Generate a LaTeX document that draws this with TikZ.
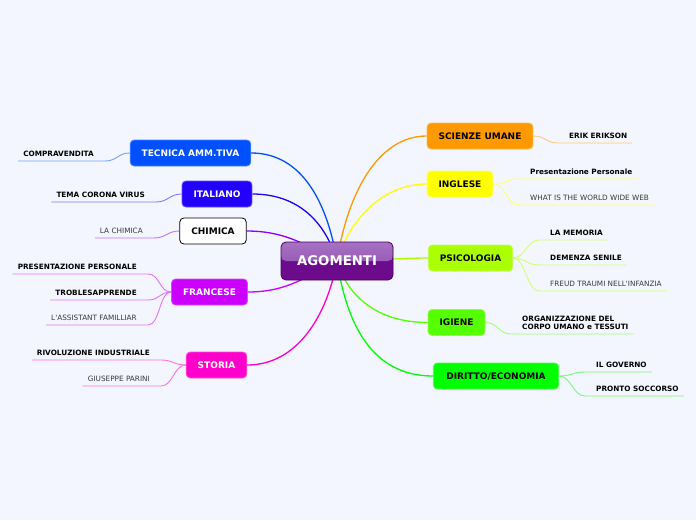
\documentclass[tikz,border=0pt]{standalone}
\usepackage{fontspec}
\setmainfont{DejaVu Sans}
\pgfdeclarelayer{back}
\pgfdeclarelayer{bg}
\pgfsetlayers{back,bg,main}
\definecolor{bgc}{HTML}{F3F6FE}
\definecolor{cTec}{HTML}{0050FF}
\definecolor{cIta}{HTML}{2200FF}
\definecolor{cChi}{HTML}{8A00FF}
\definecolor{cFra}{HTML}{CC00FF}
\definecolor{cSto}{HTML}{FF00CC}
\definecolor{cSci}{HTML}{FF9900}
\definecolor{cIng}{HTML}{FFFF00}
\definecolor{cPsi}{HTML}{AAFF00}
\definecolor{cIgi}{HTML}{55FF00}
\definecolor{cDir}{HTML}{00FF00}
\definecolor{agoD}{HTML}{6C0C8C}
\definecolor{agoT}{HTML}{A672C2}
\definecolor{agoM}{HTML}{8E48AE}
\definecolor{agoB}{HTML}{4A0066}
\tikzset{
  topic/.style={rounded corners=4pt, minimum height=26pt, inner xsep=11.5pt,
    font=\bfseries\fontsize{9}{11}\selectfont, text height=6.6pt, text depth=0pt, line width=0.8pt},
  leafb/.style={inner xsep=5pt, inner ysep=4.5pt, text height=5.4pt, text depth=0pt,
    font=\bfseries\fontsize{7.3}{9}\selectfont, text=black},
  leafr/.style={leafb, font=\fontsize{7.3}{9}\selectfont, text=black!78},
  mainc/.style={line width=1.3pt},
  subc/.style={line width=0.9pt},
}
\begin{document}
\begin{tikzpicture}[x=1pt,y=-1pt]
\begin{pgfonlayer}{back}
\fill[bgc] (0,0) rectangle (696,520);
\end{pgfonlayer}
\useasboundingbox (0,0) rectangle (696,520);

% central node
\node[minimum width=112pt, minimum height=38pt, rounded corners=5pt, draw=agoB, line width=0.8pt,
  fill=agoD, text=white, font=\bfseries\fontsize{13.3}{15}\selectfont,
  path picture={\shade[top color=agoT, bottom color=agoM]
    (path picture bounding box.north west) rectangle (path picture bounding box.east);}]
  (ago) at (337,261) {AGOMENTI};

% topics
\node[topic, fill=cTec, draw=cTec!70!white, text=white] (tec) at (190.5,153) {TECNICA AMM.TIVA};
\node[topic, fill=cIta, draw=cIta!70!white, text=white] (ita) at (217,194) {ITALIANO};
\node[topic, fill=white, draw=black, text=black] (chi) at (213,231) {CHIMICA};
\node[topic, fill=cFra, draw=cFra!70!white, text=white] (fra) at (209.5,292) {FRANCESE};
\node[topic, fill=cSto, draw=cSto!70!white, text=white] (sto) at (216.5,365) {STORIA};
\node[topic, fill=cSci, draw=cSci!70!white, text=black] (sci) at (480,136) {SCIENZE UMANE};
\node[topic, fill=cIng, draw=cIng!70!white, text=black] (ing) at (460,184) {INGLESE};
\node[topic, fill=cPsi, draw=cPsi!70!white, text=black] (psi) at (470.5,258) {PSICOLOGIA};
\node[topic, fill=cIgi, draw=cIgi!70!white, text=black] (igi) at (456.5,322.5) {IGIENE};
\node[topic, fill=cDir, draw=cDir!70!white, text=black, inner xsep=13pt] (dir) at (496,376) {DIRITTO/ECONOMIA};

% left leaves
\node[leafb, anchor=south east] (l1) at (99,161) {COMPRAVENDITA};
\node[leafb, anchor=south east] (l2) at (150,202) {TEMA CORONA VIRUS};
\node[leafr, anchor=south east] (l3) at (148,238) {LA CHIMICA};
\node[leafb, anchor=south east] (l4) at (142,274) {PRESENTAZIONE PERSONALE};
\node[leafb, anchor=south east] (l5) at (142,300) {TROBLESAPPRENDE};
\node[leafr, anchor=south east] (l6) at (142,325) {L\textquotesingle ASSISTANT FAMILLIAR};
\node[leafb, anchor=south east] (l7) at (155,360) {RIVOLUZIONE INDUSTRIALE};
\node[leafr, anchor=south east] (l8) at (155,386) {GIUSEPPE PARINI};

% right leaves
\node[leafb, anchor=south west] (r1) at (564,143) {ERIK ERIKSON};
\node[leafb, anchor=south west] (r2) at (525,179) {Presentazione Personale};
\node[leafr, anchor=south west] (r3) at (525,205) {WHAT IS THE WORLD WIDE WEB};
\node[leafb, anchor=south west] (r4) at (545,240) {LA MEMORIA};
\node[leafb, anchor=south west] (r5) at (545,265) {DEMENZA SENILE};
\node[leafr, anchor=south west] (r6) at (545,291) {FREUD TRAUMI NELL\textquotesingle INFANZIA};
\node[leafb, anchor=south west, align=left, text height=14.4pt] (r7) at (517,334) {ORGANIZZAZIONE DEL\\[-0.8pt]CORPO UMANO e TESSUTI};
\node[leafb, anchor=south west] (r8) at (591,372) {IL GOVERNO};
\node[leafb, anchor=south west] (r9) at (591,396) {PRONTO SOCCORSO};

\begin{pgfonlayer}{bg}
% main connectors
\draw[mainc, cTec] (tec.east) .. controls +(50,0) and +(-10,-60) .. (ago.center);
\draw[mainc, cIta] (ita.east) .. controls +(45,0) and +(-12,-40) .. (ago.center);
\draw[mainc, cChi] (chi.east) .. controls +(40,0) and +(-30,-15) .. (ago.center);
\draw[mainc, cFra] (fra.east) .. controls +(40,0) and +(-30,15) .. (ago.center);
\draw[mainc, cSto] (sto.east) .. controls +(50,0) and +(-10,55) .. (ago.center);
\draw[mainc, cSci] (sci.west) .. controls +(-50,0) and +(10,-65) .. (ago.center);
\draw[mainc, cIng] (ing.west) .. controls +(-45,0) and +(12,-40) .. (ago.center);
\draw[mainc, cPsi] (psi.west) .. controls +(-30,0) and +(30,0) .. (ago.center);
\draw[mainc, cIgi] (igi.west) .. controls +(-45,0) and +(12,40) .. (ago.center);
\draw[mainc, cDir] (dir.west) .. controls +(-60,0) and +(10,65) .. (ago.center);
\end{pgfonlayer}

% sub connectors left
\draw[subc, cTec!55!white] (tec.west) .. controls +(-12,0) and +(12,0) .. ([xshift=6pt]l1.south east) -- (l1.south west);
\draw[subc, cIta!55!white] (ita.west) .. controls +(-12,0) and +(12,0) .. ([xshift=6pt]l2.south east) -- (l2.south west);
\draw[subc, cChi!55!white] (chi.west) .. controls +(-12,0) and +(12,0) .. ([xshift=6pt]l3.south east) -- (l3.south west);
\draw[subc, cFra!55!white] (fra.west) .. controls +(-12,0) and +(12,0) .. ([xshift=6pt]l4.south east) -- (l4.south west);
\draw[subc, cFra!55!white] (fra.west) .. controls +(-12,0) and +(12,0) .. ([xshift=6pt]l5.south east) -- (l5.south west);
\draw[subc, cFra!55!white] (fra.west) .. controls +(-12,0) and +(12,0) .. ([xshift=6pt]l6.south east) -- (l6.south west);
\draw[subc, cSto!55!white] (sto.west) .. controls +(-12,0) and +(12,0) .. ([xshift=6pt]l7.south east) -- (l7.south west);
\draw[subc, cSto!55!white] (sto.west) .. controls +(-12,0) and +(12,0) .. ([xshift=6pt]l8.south east) -- (l8.south west);
% sub connectors right
\draw[subc, cSci!55!white] (sci.east) .. controls +(12,0) and +(-12,0) .. ([xshift=-6pt]r1.south west) -- (r1.south east);
\draw[subc, cIng!55!white] (ing.east) .. controls +(12,0) and +(-12,0) .. ([xshift=-6pt]r2.south west) -- (r2.south east);
\draw[subc, cIng!55!white] (ing.east) .. controls +(12,0) and +(-12,0) .. ([xshift=-6pt]r3.south west) -- (r3.south east);
\draw[subc, cPsi!55!white] (psi.east) .. controls +(12,0) and +(-12,0) .. ([xshift=-6pt]r4.south west) -- (r4.south east);
\draw[subc, cPsi!55!white] (psi.east) .. controls +(12,0) and +(-12,0) .. ([xshift=-6pt]r5.south west) -- (r5.south east);
\draw[subc, cPsi!55!white] (psi.east) .. controls +(12,0) and +(-12,0) .. ([xshift=-6pt]r6.south west) -- (r6.south east);
\draw[subc, cIgi!55!white] (igi.east) .. controls +(12,0) and +(-12,0) .. ([xshift=-6pt]r7.south west) -- (r7.south east);
\draw[subc, cDir!55!white] (dir.east) .. controls +(12,0) and +(-12,0) .. ([xshift=-6pt]r8.south west) -- (r8.south east);
\draw[subc, cDir!55!white] (dir.east) .. controls +(12,0) and +(-12,0) .. ([xshift=-6pt]r9.south west) -- (r9.south east);
\end{tikzpicture}
\end{document}
